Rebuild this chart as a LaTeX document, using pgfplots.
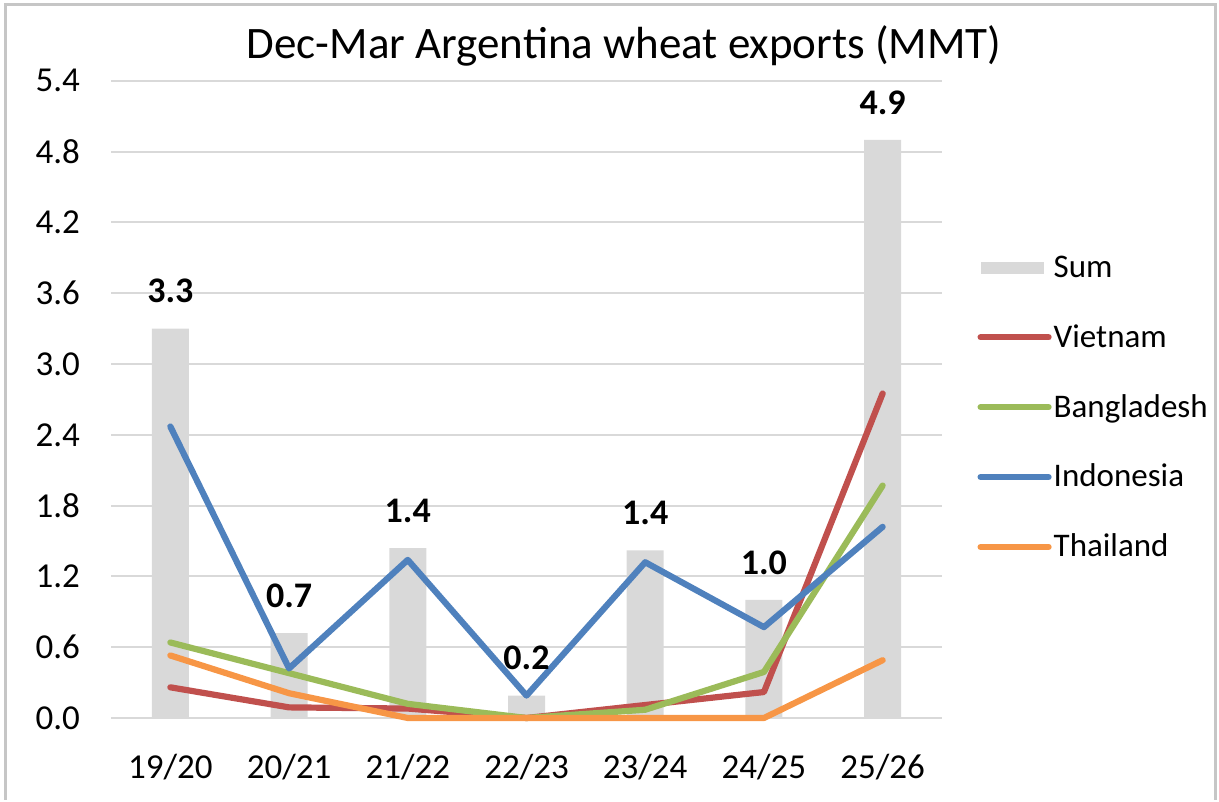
\documentclass[border=0pt]{standalone}
\usepackage{pgfplots}
\pgfplotsset{compat=1.18}
\usepackage{fontspec}
\setmainfont{Carlito}

\definecolor{sumgray}{HTML}{D9D9D9}
\definecolor{gridgray}{HTML}{D9D9D9}
\definecolor{vietnam}{HTML}{C0504D}
\definecolor{bangla}{HTML}{9BBB59}
\definecolor{indo}{HTML}{4F81BD}
\definecolor{thai}{HTML}{F79646}

\pgfkeys{/pgf/number format/assume math mode=true}
\pgfplotsset{
  country/.style={#1, line width=3.1pt, line join=round, line cap=round,
    legend image code/.code={\draw[#1, line width=3.1pt, line cap=round] (0pt,0pt) -- (34pt,0pt);}},
}

\begin{document}
\begin{tikzpicture}
  % canvas, 0.5pt per pixel of the reference
  \path (0,0) rectangle (609.5pt,398pt);
  \draw[gray!45, line width=1.5pt] (2.5pt,-2pt) -- (2.5pt,395.5pt) -- (607.5pt,395.5pt) -- (607.5pt,-2pt);
  \node[font=\fontsize{22.5}{22.5}\selectfont] at (312pt,375pt) {Dec-Mar Argentina wheat exports (MMT)};

  \begin{axis}[
    at={(55.5pt,39pt)}, anchor=south west,
    scale only axis,
    width=415.5pt, height=318.6pt,
    xmin=-0.5, xmax=6.5,
    ymin=0, ymax=5.4,
    ytick={0,0.6,...,5.4},
    yticklabel={\pgfmathprintnumber[fixed,fixed zerofill,precision=1]{\tick}},
    xtick={0,...,6},
    xticklabels={19/20,20/21,21/22,22/23,23/24,24/25,25/26},
    axis x line*=bottom,
    axis y line*=left,
    y axis line style={draw=none},
    x axis line style={gridgray, line width=1pt, -},
    ymajorgrids,
    grid style={gridgray, line width=1pt},
    major tick length=0pt,
    tick label style={font=\fontsize{17.5}{17.5}\selectfont},
    yticklabel style={xshift=-12pt},
    xticklabel style={yshift=-14.5pt},
    clip=false,
    legend style={at={(1.035,0.735)}, anchor=north west, draw=none, fill=none,
      font=\fontsize{16.5}{16.5}\selectfont, row sep=20pt,
      nodes={inner sep=1pt, anchor=west}},
    legend cell align=left,
  ]
    \addplot[ybar, bar width=18.5pt, fill=sumgray, draw=none,
      nodes near coords={\pgfmathprintnumber[fixed,fixed zerofill,precision=1]{\pgfplotspointmeta}},
      every node near coord/.append style={font=\bfseries\fontsize{18}{18}\selectfont, anchor=base, yshift=12.8pt, inner sep=0pt, text=black},
      legend image code/.code={\fill[sumgray] (0pt,-3pt) rectangle (31.5pt,3pt);}]
      coordinates {(0,3.30) (1,0.72) (2,1.44) (3,0.19) (4,1.42) (5,1.00) (6,4.90)};
    \addlegendentry{Sum}

    \addplot[country=vietnam]
      coordinates {(0,0.26) (1,0.09) (2,0.08) (3,0.00) (4,0.11) (5,0.22) (6,2.75)};
    \addlegendentry{Vietnam}

    \addplot[country=bangla]
      coordinates {(0,0.64) (1,0.38) (2,0.12) (3,0.00) (4,0.07) (5,0.39) (6,1.97)};
    \addlegendentry{Bangladesh}

    \addplot[country=indo]
      coordinates {(0,2.47) (1,0.42) (2,1.34) (3,0.19) (4,1.32) (5,0.77) (6,1.62)};
    \addlegendentry{Indonesia}

    \addplot[country=thai]
      coordinates {(0,0.53) (1,0.21) (2,0.00) (3,0.00) (4,0.00) (5,0.00) (6,0.49)};
    \addlegendentry{Thailand}
  \end{axis}
\end{tikzpicture}
\end{document}
